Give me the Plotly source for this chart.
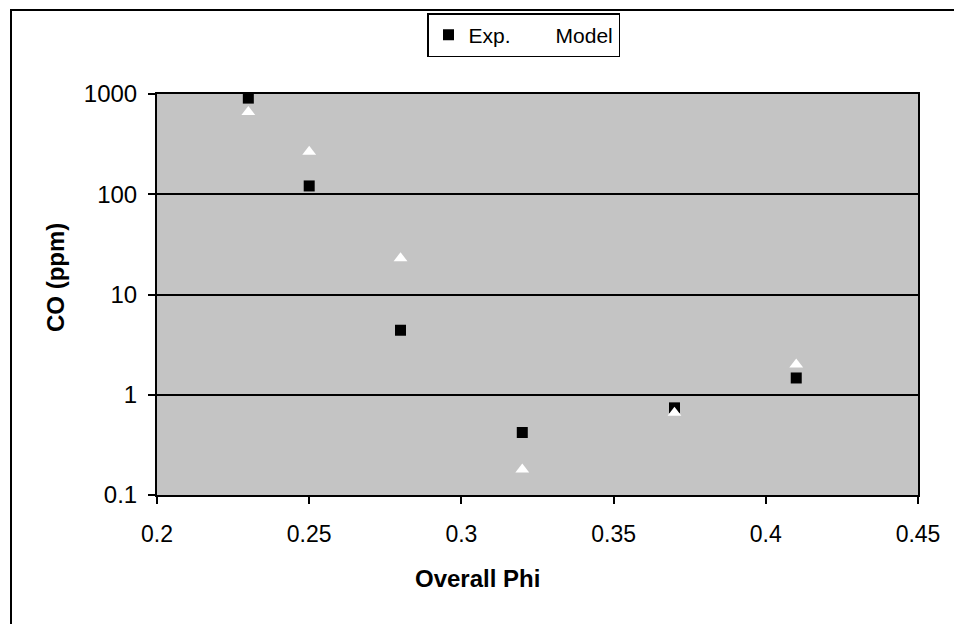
import plotly.graph_objects as go

phi = [0.23, 0.25, 0.28, 0.32, 0.37, 0.41]
exp_co = [910, 121, 4.4, 0.42, 0.74, 1.47]
model_co = [660, 265, 23, 0.18, 0.66, 2.0]

x_ticks = [0.2, 0.25, 0.3, 0.35, 0.4, 0.45]
x_tick_labels = ["0.2", "0.25", "0.3", "0.35", "0.4", "0.45"]
y_ticks = [0.1, 1, 10, 100, 1000]
y_tick_labels = ["0.1", "1", "10", "100", "1000"]

FONT = "Liberation Sans"

fig = go.Figure()
fig.add_trace(go.Scatter(
    x=phi, y=exp_co, mode="markers", name="Exp.",
    marker=dict(symbol="square", size=11, color="black"),
))
fig.add_trace(go.Scatter(
    x=phi, y=model_co, mode="markers", name="Model",
    marker=dict(symbol="triangle-up", size=12, color="white", line=dict(width=0)),
))

L, R, T, B = 157, 918, 94, 495
W, H = 954, 624
pw, ph = R - L, B - T

def px(xp):
    return (xp - L) / pw

def py(yp):
    return (B - yp) / ph

fig.update_layout(
    width=W, height=H,
    margin=dict(l=L, r=W - R, t=T, b=H - B, pad=0, autoexpand=False),
    paper_bgcolor="white",
    plot_bgcolor="#c4c4c4",
    font=dict(family=FONT, color="black", size=23),
    showlegend=True,
    legend=dict(
        orientation="h", x=px(427), y=py(13), xanchor="left", yanchor="top",
        bgcolor="white", bordercolor="black", borderwidth=1.5,
        font=dict(size=21, family=FONT), itemwidth=30, tracegroupgap=0,
    ),
    xaxis=dict(
        range=[0.2, 0.45], tickvals=x_ticks, ticktext=x_tick_labels,
        showgrid=False, zeroline=False,
        showline=True, linecolor="black", linewidth=2, mirror=True,
        ticks="outside", ticklen=7, tickwidth=1.5, tickcolor="black",
        ticklabelstandoff=10, tickfont=dict(size=23),
    ),
    yaxis=dict(
        type="log", range=[-1, 3], tickvals=y_ticks, ticktext=y_tick_labels,
        showgrid=True, gridcolor="black", gridwidth=1.5, zeroline=False,
        showline=True, linecolor="black", linewidth=2, mirror=True,
        ticks="outside", ticklen=7, tickwidth=1.5, tickcolor="black",
        ticklabelstandoff=6, tickfont=dict(size=24),
    ),
    annotations=[
        dict(text="<b>Overall Phi</b>", xref="paper", yref="paper",
             x=px(477), y=py(578), xanchor="center", yanchor="middle",
             showarrow=False, font=dict(size=24, family=FONT)),
        dict(text="<b>CO (ppm)</b>", xref="paper", yref="paper",
             x=px(55), y=py(278), xanchor="center", yanchor="middle",
             textangle=-90, showarrow=False, font=dict(size=24, family=FONT)),
    ],
    shapes=[
        dict(type="rect", xref="paper", yref="paper",
             x0=px(11), x1=px(W + 10), y0=py(H + 10), y1=py(10),
             line=dict(color="black", width=2), fillcolor="rgba(0,0,0,0)",
             layer="below"),
    ],
)

fig.write_html("out.html")
